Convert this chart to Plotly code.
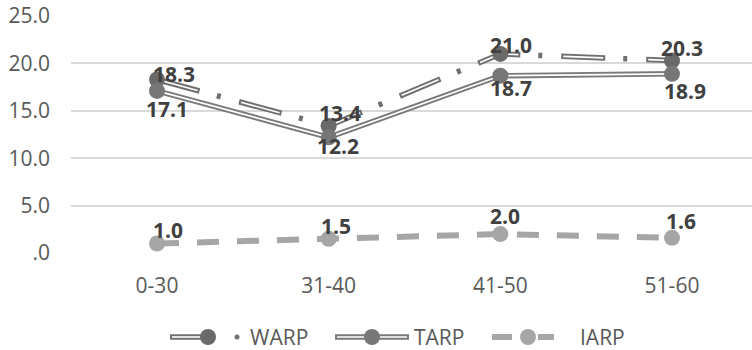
import plotly.graph_objects as go

# Age groups and series values
categories = ["0-30", "31-40", "41-50", "51-60"]
warp = [18.3, 13.4, 21.0, 20.3]
tarp = [17.1, 12.2, 18.7, 18.9]
iarp = [1.0, 1.5, 2.0, 1.6]
y_ticks = [0, 5, 10, 15, 20, 25]
y_tick_text = [".0", "5.0", "10.0", "15.0", "20.0", "25.0"]

# Label nudges in pixels (dx, dy)
warp_label_shift = [(17, 6), (11, 13), (11, 9), (10, 13)]
tarp_label_shift = [(10, -18), (9, -9), (11, -12), (13, -17)]
iarp_label_shift = [(11, 14), (7, 13), (5, 18), (9, 17)]

W, H = 752, 350
ML, MR, MT, MB = 71, 0, 16, 97
PW, PH = W - ML - MR, H - MT - MB

FONT = "Open Sans"
TEXT_GRAY = "#595959"
LABEL_GRAY = "#404040"
WARP_COL = "#707070"
WARP_MK = "#6a6a6a"
TARP_COL = "#7a7a7a"
TARP_MK = "#777777"
IARP_COL = "#a6a6a6"

fig = go.Figure()


def double_line(y, color, dash_outer, dash_inner, name):
    fig.add_trace(go.Scatter(x=categories, y=y, mode="lines", name=name,
                             line=dict(color=color, width=5.5, dash=dash_outer),
                             hoverinfo="skip", showlegend=False))
    fig.add_trace(go.Scatter(x=categories, y=y, mode="lines",
                             line=dict(color="white", width=1.6, dash=dash_inner),
                             hoverinfo="skip", showlegend=False))


# WARP: double line, long dash + dot
double_line(warp, WARP_COL, "44px,18px,4px,19px", "0px,2px,40px,43px", "WARP")
fig.add_trace(go.Scatter(x=categories, y=warp, mode="markers", name="WARP",
                         marker=dict(size=16, color=WARP_MK), showlegend=False))

# TARP: solid double line
double_line(tarp, TARP_COL, "solid", "solid", "TARP")
fig.add_trace(go.Scatter(x=categories, y=tarp, mode="markers", name="TARP",
                         marker=dict(size=16, color=TARP_MK), showlegend=False))

# IARP: thick dashed line
fig.add_trace(go.Scatter(x=categories, y=iarp, mode="lines+markers", name="IARP",
                         line=dict(color=IARP_COL, width=6, dash="22px,18px"),
                         marker=dict(size=16, color=IARP_COL), showlegend=False))

# Data labels
for series, shifts in ((warp, warp_label_shift), (tarp, tarp_label_shift),
                       (iarp, iarp_label_shift)):
    for cat, v, (dx, dy) in zip(categories, series, shifts):
        fig.add_annotation(x=cat, y=v, text=f"{v:.1f}", showarrow=False,
                           xshift=dx, yshift=dy, xanchor="center", yanchor="middle",
                           font=dict(family=FONT, size=21, color=LABEL_GRAY,
                                     weight="bold"))


# Hand-drawn legend below the axis (pixel -> paper helpers)
def px(xp):
    return (xp - ML) / PW


def py(yp):
    return (H - MB - yp) / PH


LEG_Y = 337
shapes = []


def seg(x0, x1, color, width, dash="solid"):
    shapes.append(dict(type="line", xref="paper", yref="paper",
                       x0=px(x0), x1=px(x1), y0=py(LEG_Y), y1=py(LEG_Y),
                       line=dict(color=color, width=width, dash=dash)))


def dot(xc, r, color):
    shapes.append(dict(type="circle", xref="paper", yref="paper",
                       x0=px(xc - r), x1=px(xc + r), y0=py(LEG_Y + r), y1=py(LEG_Y - r),
                       fillcolor=color, line=dict(width=0)))


seg(170, 206, WARP_COL, 5.5)
seg(172, 204, "white", 1.6)
dot(208, 8, WARP_MK)
dot(237, 2.5, WARP_COL)

seg(335, 409, TARP_COL, 5.5)
seg(337, 407, "white", 1.6)
dot(372, 8, TARP_MK)

seg(492, 512, IARP_COL, 6)
seg(538, 554, IARP_COL, 6)
dot(528, 8, IARP_COL)

fig.update_layout(shapes=shapes)

for label, xl in (("WARP", 248), ("TARP", 412), ("IARP", 578)):
    fig.add_annotation(x=px(xl), y=py(LEG_Y), xref="paper", yref="paper",
                       text=label, showarrow=False, xanchor="left", yanchor="middle",
                       font=dict(family=FONT, size=21, color=TEXT_GRAY))

fig.update_layout(
    width=W, height=H,
    margin=dict(l=ML, r=MR, t=MT, b=MB, pad=0),
    paper_bgcolor="white", plot_bgcolor="white",
    font=dict(family=FONT, size=21, color=TEXT_GRAY),
    showlegend=False,
    xaxis=dict(type="category", categoryorder="array", categoryarray=categories,
               range=[-0.501, 3.466], showgrid=False, zeroline=False, showline=False,
               ticks="", ticklabelstandoff=18,
               tickfont=dict(family=FONT, size=21, color=TEXT_GRAY)),
    yaxis=dict(range=[0, 25], tickvals=y_ticks, ticktext=y_tick_text,
               showgrid=True, gridcolor="#d9d9d9", gridwidth=1.5,
               zeroline=False, showline=False, ticks="", ticklabelstandoff=20,
               tickfont=dict(family=FONT, size=21, color=TEXT_GRAY)),
)

fig.write_html("out.html")
